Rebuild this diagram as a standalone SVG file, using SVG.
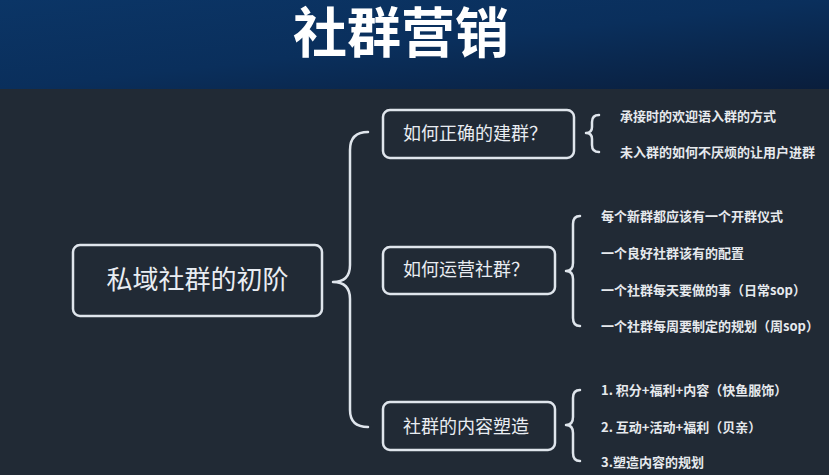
<svg xmlns="http://www.w3.org/2000/svg" width="829" height="475" viewBox="0 0 829 475">
<defs>
<linearGradient id="hdr" x1="0" y1="0" x2="1" y2="1">
<stop offset="0" stop-color="#0b3566"/>
<stop offset="0.5" stop-color="#0a2f5c"/>
<stop offset="1" stop-color="#0a1e3c"/>
</linearGradient>
<style>
.box{fill:#212a35;stroke:#dfe5ec;stroke-width:2.5}
.br{fill:none;stroke:#dfe5ec;stroke-width:2.5;stroke-linecap:round;stroke-linejoin:round}
.t{font-family:"Noto Sans CJK SC","Noto Sans",sans-serif;fill:#e9edf2}
.main{font-size:26px}
.mid{font-size:18px}
.leaf{font-size:13px;font-weight:bold;fill:#e6e9ed}
</style>
</defs>
<rect x="0" y="0" width="829" height="89" fill="url(#hdr)"/>
<rect x="0" y="89" width="829" height="386" fill="#212a35"/>
<text x="401" y="53" text-anchor="middle" font-family="Noto Sans CJK SC, sans-serif" font-size="54" font-weight="bold" fill="#ffffff">社群营销</text>
<g id="connectors">
<path class="br" d="M368,132 Q350,132 350,150 L350,265 Q350,282 333,282 Q350,282 350,299 L350,410 Q350,427 368,427"/>
<path class="br" d="M599,115 Q592,115 592,122 L592,127 Q592,133 586,133 Q592,133 592,139 L592,145 Q592,152 599,152"/>
<path class="br" d="M580,216 Q573,216 573,224 L573,263 Q573,271 566,271 Q573,271 573,279 L573,318 Q573,326 580,326"/>
<path class="br" d="M580,390 Q573,390 573,398 L573,417 Q573,425 566,425 Q573,425 573,433 L573,453 Q573,461 580,461"/>
</g>
<g id="root">
<rect class="box" x="73" y="245" width="249" height="71" rx="7"/>
<text class="t main" x="197.5" y="289" text-anchor="middle">私域社群的初阶</text>
</g>
<g id="n1">
<rect class="box" x="383" y="110" width="191" height="48" rx="7"/>
<text class="t mid" x="403" y="140">如何正确的建群？</text>
</g>
<g id="n2">
<rect class="box" x="383" y="247" width="172" height="47" rx="7"/>
<text class="t mid" x="403" y="276">如何运营社群？</text>
</g>
<g id="n3">
<rect class="box" x="383" y="402" width="172" height="48" rx="7"/>
<text class="t mid" x="403" y="433">社群的内容塑造</text>
</g>
<g id="leaves1">
<text class="t leaf" x="620" y="121">承接时的欢迎语入群的方式</text>
<text class="t leaf" x="620" y="157">未入群的如何不厌烦的让用户进群</text>
</g>
<g id="leaves2">
<text class="t leaf" x="601" y="221">每个新群都应该有一个开群仪式</text>
<text class="t leaf" x="601" y="258">一个良好社群该有的配置</text>
<text class="t leaf" x="601" y="295">一个社群每天要做的事（日常sop）</text>
<text class="t leaf" x="601" y="331">一个社群每周要制定的规划（周sop）</text>
</g>
<g id="leaves3">
<text class="t leaf" x="601" y="395">1. 积分+福利+内容（快鱼服饰）</text>
<text class="t leaf" x="601" y="432">2. 互动+活动+福利（贝亲）</text>
<text class="t leaf" x="601" y="467">3.塑造内容的规划</text>
</g>
</svg>
